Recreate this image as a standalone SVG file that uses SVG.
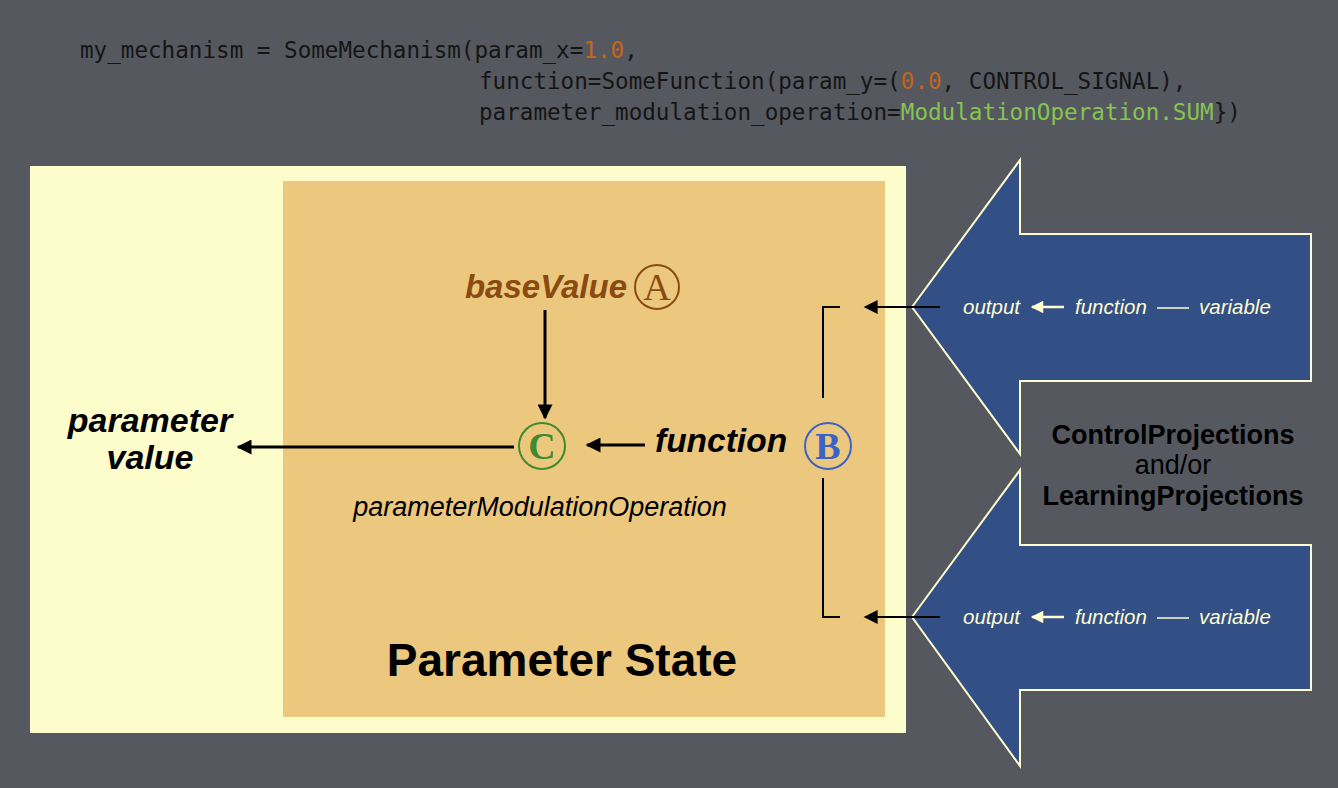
<svg xmlns="http://www.w3.org/2000/svg" width="1338" height="788" viewBox="0 0 1338 788">
<defs>
<marker id="ah" viewBox="0 0 10 10" refX="9" refY="5" markerWidth="6" markerHeight="5" markerUnits="strokeWidth" orient="auto"><path d="M0,0 L10,5 L0,10 z" fill="#000"/></marker>
<marker id="ahs" viewBox="0 0 10 10" refX="9" refY="5" markerWidth="10" markerHeight="7" markerUnits="strokeWidth" orient="auto"><path d="M0,0 L10,5 L0,10 z" fill="#000"/></marker>
<marker id="ahy" viewBox="0 0 10 10" refX="9" refY="5" markerWidth="6" markerHeight="5" markerUnits="strokeWidth" orient="auto"><path d="M0,0 L10,5 L0,10 z" fill="#fffcd0"/></marker>
</defs>
<style>
.code{font-family:"DejaVu Sans Mono",monospace;font-size:22.6px;fill:#151515}
.num{fill:#c4661c}
.grn{fill:#86c452}
.bi{font-family:"Liberation Sans",Arial,sans-serif;font-weight:bold;font-style:italic}
.lbl{font-family:"Liberation Sans",Arial,sans-serif;font-style:italic;font-size:20.5px;fill:#fffcd0}
.serif{font-family:"Liberation Serif","Times New Roman",serif;font-size:38px;text-anchor:middle}
.blk{stroke:#000;stroke-width:3;fill:none}
.thin{stroke:#000;stroke-width:2;fill:none}
.proj{fill:#325086;stroke:#fffcd0;stroke-width:2}
.cap{font-family:"Liberation Sans",Arial,sans-serif;font-size:27px;fill:#000;text-anchor:middle}
</style>
<rect x="0" y="0" width="1338" height="788" fill="#55585f"/>
<g id="code">
<text class="code" x="80" y="58">my_mechanism = SomeMechanism(param_x=</text>
<text class="code num" x="583.4" y="58">1.0</text>
<text class="code" x="624.2" y="58">,</text>
<text class="code" x="479" y="89">function=SomeFunction(param_y=(</text>
<text class="code num" x="900.8" y="89">0.0</text>
<text class="code" x="941.6" y="89">, CONTROL_SIGNAL),</text>
<text class="code" x="479" y="120">parameter_modulation_operation=</text>
<text class="code grn" x="900.8" y="120">ModulationOperation.SUM</text>
<text class="code" x="1213.7" y="120">})</text>
</g>
<g id="mechanism">
<rect x="30" y="166" width="876" height="567" fill="#fdfdcc"/>
</g>
<g id="parameter-state">
<rect x="283" y="181" width="602" height="536" fill="#ecc87e"/>
<text x="562" y="676" font-family="Liberation Sans, Arial, sans-serif" font-weight="bold" font-size="46" text-anchor="middle" fill="#000">Parameter State</text>
</g>
<g id="baseValue">
<text class="bi" x="627" y="298" font-size="33" fill="#8a4a12" text-anchor="end">baseValue</text>
<circle cx="657" cy="287" r="22" fill="none" stroke="#8a4a12" stroke-width="2"/>
<text class="serif" x="657" y="300" fill="#8a4a12">A</text>
</g>
<g id="C">
<circle cx="542" cy="446" r="23" fill="none" stroke="#3f8a2e" stroke-width="2"/>
<text class="serif" x="542" y="459" fill="#3f8a2e" font-weight="bold">C</text>
<text x="540" y="516" font-family="Liberation Sans, Arial, sans-serif" font-style="italic" font-size="27" text-anchor="middle" fill="#000">parameterModulationOperation</text>
</g>
<g id="B">
<circle cx="828" cy="446" r="23" fill="none" stroke="#3b62c4" stroke-width="2"/>
<text class="serif" x="828" y="459" fill="#3b62c4" font-weight="bold">B</text>
</g>
<g id="function-label">
<text class="bi" x="655" y="452" font-size="33.5" fill="#000">function</text>
</g>
<g id="parameter-value">
<text class="bi" x="150" y="432" font-size="34" fill="#000" text-anchor="middle">parameter</text>
<text class="bi" x="150" y="469" font-size="34" fill="#000" text-anchor="middle">value</text>
</g>
<g id="projection-1">
<path class="proj" d="M912,307 L1020,160 L1020,234 L1311,234 L1311,381 L1020,381 L1020,454 Z"/>
<text class="lbl" x="963" y="314">output</text>
<line x1="1064" y1="307" x2="1032" y2="307" stroke="#fffcd0" stroke-width="2.5" marker-end="url(#ahy)"/>
<text class="lbl" x="1075" y="314">function</text>
<line x1="1157" y1="308" x2="1189" y2="308" stroke="#fffcd0" stroke-width="1.5"/>
<text class="lbl" x="1199" y="314">variable</text>
</g>
<g id="projection-2">
<path class="proj" d="M912,617 L1020,470 L1020,545 L1311,545 L1311,690 L1020,690 L1020,766 Z"/>
<text class="lbl" x="963" y="624">output</text>
<line x1="1064" y1="617" x2="1032" y2="617" stroke="#fffcd0" stroke-width="2.5" marker-end="url(#ahy)"/>
<text class="lbl" x="1075" y="624">function</text>
<line x1="1157" y1="618" x2="1189" y2="618" stroke="#fffcd0" stroke-width="1.5"/>
<text class="lbl" x="1199" y="624">variable</text>
</g>
<g id="projections-caption">
<text class="cap" x="1173" y="444" font-weight="bold">ControlProjections</text>
<text class="cap" x="1173" y="474">and/or</text>
<text class="cap" x="1173" y="505" font-weight="bold">LearningProjections</text>
</g>
<g id="connectors">
<line class="blk" x1="545" y1="310" x2="545" y2="418" marker-end="url(#ah)"/>
<line class="blk" x1="514" y1="447" x2="238" y2="447" marker-end="url(#ah)"/>
<line class="blk" x1="645" y1="445" x2="587" y2="445" marker-end="url(#ah)"/>
<line class="thin" x1="940" y1="307" x2="865" y2="307" marker-end="url(#ahs)"/>
<line class="thin" x1="940" y1="617" x2="865" y2="617" marker-end="url(#ahs)"/>
<polyline class="thin" points="840,307 823,307 823,398"/>
<polyline class="thin" points="823,478 823,617 840,617"/>
</g>
</svg>
